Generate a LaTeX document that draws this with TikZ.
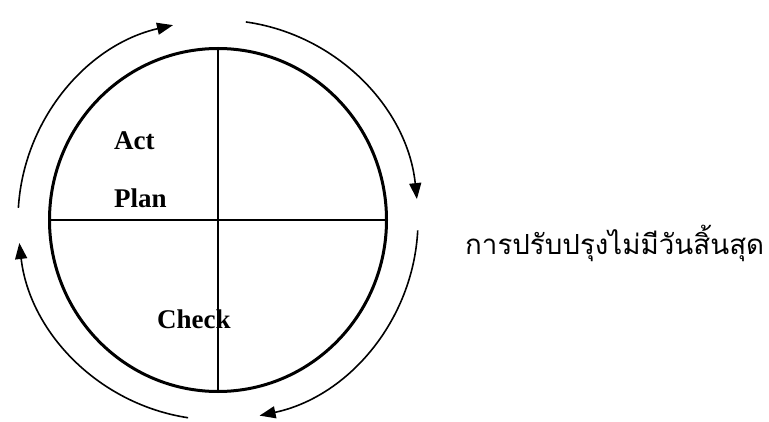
\documentclass[tikz,border=0pt]{standalone}
\usepackage{fontspec}
\setmainfont{Liberation Serif}
\newfontfamily\thaifont[Script=Thai]{Loma}
\usetikzlibrary{arrows.meta,shapes.geometric}
\begin{document}
\begin{tikzpicture}[x=1pt,y=1pt,
  wheel/.style={ellipse, draw, line width=3pt, minimum width=337pt, minimum height=343pt, inner sep=0pt},
  divider/.style={line width=2.5pt},
  cyclearrow/.style={line width=1.6pt,-{Triangle[length=16pt,width=12pt]}},
  lbl/.style={font=\fontsize{27}{30}\selectfont\bfseries, anchor=base west, inner sep=0pt},
  thailbl/.style={font=\fontsize{27.7}{30}\selectfont\thaifont, anchor=base west, inner sep=0pt},
]
\useasboundingbox (0,0) rectangle (769,421);
\coordinate (c) at (218,201);
\node[wheel] (wheel) at (c) {};
\draw[divider] (wheel.north) -- (wheel.south);
\draw[divider] (wheel.west) -- (wheel.east);
\draw[cyclearrow] ([shift={(176.5:200)}]c) arc[start angle=176.5, end angle=103, radius=200];
\draw[cyclearrow] ([shift={(82:200)}]c) arc[start angle=82, end angle=6, radius=200];
\draw[cyclearrow] ([shift={(-3:200)}]c) arc[start angle=-3, end angle=-78, radius=200];
\draw[cyclearrow] ([shift={(-98.6:200)}]c) arc[start angle=-98.6, end angle=-173.4, radius=200];
\node[lbl] (act) at (114,271) {Act};
\node[lbl] (plan) at (114,213) {Plan};
\node[lbl] (check) at (157,93) {Check};
\node[thailbl] (thai) at (465,166) {การปรับปรุงไม่มีวันสิ้นสุด};
\end{tikzpicture}
\end{document}
